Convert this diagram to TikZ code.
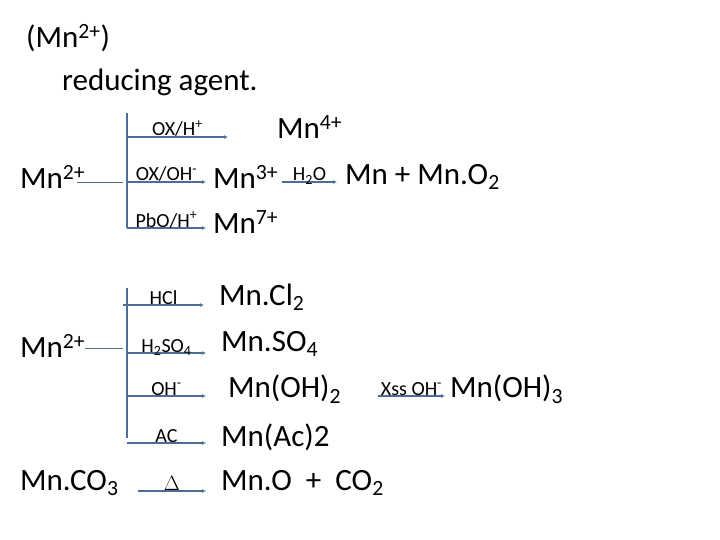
\documentclass[tikz,border=0pt]{standalone}
\usepackage{fontspec}
\setmainfont{Carlito}
\usetikzlibrary{arrows.meta}
\begin{document}
\begin{tikzpicture}[x=1pt,y=-1pt,
  big/.style={anchor=west,inner sep=0pt,font=\fontsize{31}{33}\selectfont},
  lab/.style={anchor=base,inner sep=0pt,yshift=1pt,font=\fontsize{20}{22}\selectfont},
  ln/.style={draw={rgb,255:red,74;green,110;blue,150},line width=1.2pt},
  arr/.style={ln,-{Latex[length=4pt,width=4pt]}},
  feed/.style={draw={rgb,255:red,90;green,110;blue,130},line width=0.7pt}]
\useasboundingbox (0,0) rectangle (720,540);
\node[big] (t1) at (26,38) {(Mn\textsuperscript{2+})};
\node[big] (t2) at (62,82) {reducing agent.};
% top block
\node[big] (a0) at (20,177) {Mn\textsuperscript{2+}};
\coordinate (av1) at (127,113); \coordinate (av2) at (127,228);
\draw[ln] (av1) -- (av2);
\coordinate (af) at (123,182);
\draw[feed] (77,182) -- (af);
\coordinate (a1s) at (127,137); \coordinate (a1e) at (228,137);
\draw[arr] (a1s) -- node[lab] {OX/H\textsuperscript{+}} (a1e);
\node[big] (m4) at (277,127) {Mn\textsuperscript{4+}};
\coordinate (a2s) at (127,182); \coordinate (a2e) at (206,182);
\draw[arr] (a2s) -- node[lab] {OX/OH\textsuperscript{-}} (a2e);
\node[big] (m3) at (213,177) {Mn\textsuperscript{3+}};
\coordinate (h1) at (282,182); \coordinate (h2) at (337,182);
\draw[arr] (h1) -- node[lab] {H\textsubscript{2}O} (h2);
\node[big] (mno2) at (345,177) {Mn + Mn.O\textsubscript{2}};
\coordinate (a3s) at (127,228); \coordinate (a3e) at (206,228);
\draw[arr] (a3s) -- node[lab] {PbO/H\textsuperscript{+}} (a3e);
\node[big] (m7) at (213,222) {Mn\textsuperscript{7+}};
% bottom block
\node[big] (b0) at (20,346) {Mn\textsuperscript{2+}};
\coordinate (bv1) at (127,288); \coordinate (bv2) at (127,438);
\draw[ln] (bv1) -- (bv2);
\draw[feed] (85,348) -- (123,348);
\coordinate (b1s) at (123,305); \coordinate (b1e) at (204,305);
\draw[arr] (b1s) -- node[lab] {HCl} (b1e);
\node[big] (p1) at (219,297) {Mn.Cl\textsubscript{2}};
\coordinate (b2s) at (127,353); \coordinate (b2e) at (206,353);
\draw[arr] (b2s) -- node[lab] {H\textsubscript{2}SO\textsubscript{4}} (b2e);
\node[big] (p2) at (221,344) {Mn.SO\textsubscript{4}};
\coordinate (b3s) at (127,396); \coordinate (b3e) at (206,396);
\draw[arr] (b3s) -- node[lab] {OH\textsuperscript{-}} (b3e);
\node[big] (p3) at (228,389) {Mn(OH)\textsubscript{2}};
\coordinate (x1) at (378,396); \coordinate (x2) at (445,396);
\draw[arr] (x1) -- node[lab] {Xss OH\textsuperscript{-}} (x2);
\node[big] (p4) at (450,389) {Mn(OH)\textsubscript{3}};
\coordinate (b4s) at (127,443); \coordinate (b4e) at (206,443);
\draw[arr] (b4s) -- node[lab] {AC} (b4e);
\node[big] (p5) at (221,437) {Mn(Ac)2};
\node[big] (c0) at (20,483) {Mn.CO\textsubscript{3}};
\coordinate (b5s) at (138,491); \coordinate (b5e) at (206,491);
\draw[arr] (b5s) -- node[lab] {$\Delta$} (b5e);
\node[big] (p6) at (221,483) {Mn.O \ + \ CO\textsubscript{2}};
\end{tikzpicture}
\end{document}
